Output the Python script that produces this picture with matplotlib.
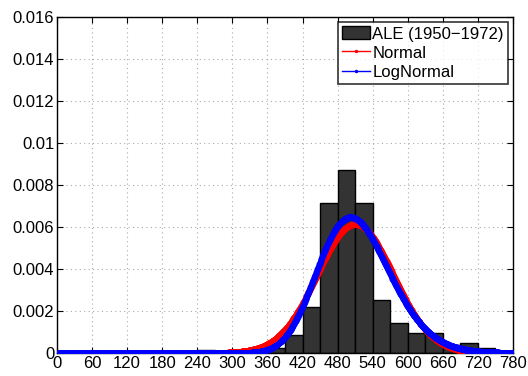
import numpy as np
import matplotlib.pyplot as plt

plt.rcParams["font.family"] = ["Liberation Sans", "DejaVu Sans"]

# histogram of ALE (monthly, 1950-1972), bins of width 30
bin_edges = np.arange(240, 781, 30)
counts = [1, 0, 0, 0, 2, 7, 18, 59, 72, 59, 21, 12, 8, 8, 3, 4, 2, 0]
n_total = 276

# fitted distribution parameters
norm_mu, norm_sigma = 510.0, 65.0
logn_mu, logn_sigma = 6.2335, 0.122

xticks = np.arange(0, 781, 60)
yticks = np.arange(0, 0.0161, 0.002)
ytick_labels = ["0", "0.002", "0.004", "0.006", "0.008", "0.01", "0.012", "0.014", "0.016"]

density = np.array(counts) / (n_total * 30.0)
x = np.linspace(0.5, 780, 1400)
pdf_norm = np.exp(-((x - norm_mu) ** 2) / (2 * norm_sigma**2)) / (norm_sigma * np.sqrt(2 * np.pi))
pdf_logn = np.exp(-((np.log(x) - logn_mu) ** 2) / (2 * logn_sigma**2)) / (x * logn_sigma * np.sqrt(2 * np.pi))

fig = plt.figure(figsize=(5.28, 3.76), dpi=100)
ax = fig.add_axes([0.108, 0.0612, 0.8636, 0.8936])

bars = ax.bar(bin_edges[:-1], density, width=30, align="edge", color="#333333",
              edgecolor="black", linewidth=1.0, label="ALE (1950\u22121972)", zorder=2)
l1, = ax.plot(x, pdf_norm, color="red", linestyle="-", marker=".", markersize=6.5,
              linewidth=1, label="Normal", zorder=3)
l2, = ax.plot(x, pdf_logn, color="blue", linestyle="-", marker=".", markersize=6.5,
              linewidth=1, label="LogNormal", zorder=4)

ax.set_xlim(0, 780)
ax.set_ylim(0, 0.016)
ax.set_xticks(xticks)
ax.set_yticks(yticks)
ax.set_yticklabels(ytick_labels)
ax.tick_params(direction="in", top=True, right=True, labelsize=12, length=4, pad=2)
ax.grid(True, linestyle=(0, (1, 3)), color="#aaaaaa", linewidth=0.8)
ax.set_axisbelow(True)
for s in ax.spines.values():
    s.set_linewidth(1.0)

leg = ax.legend([bars, l1, l2], ["ALE (1950\u22121972)", "Normal", "LogNormal"],
                loc="upper right", fontsize=12, frameon=True, fancybox=False,
                edgecolor="black", borderpad=0.25, labelspacing=0.22,
                handlelength=1.65, handleheight=0.85, handletextpad=0.15,
                borderaxespad=0.3, markerscale=0.45)
leg.get_frame().set_linewidth(1.2)

fig.savefig("out.png", dpi=100)
